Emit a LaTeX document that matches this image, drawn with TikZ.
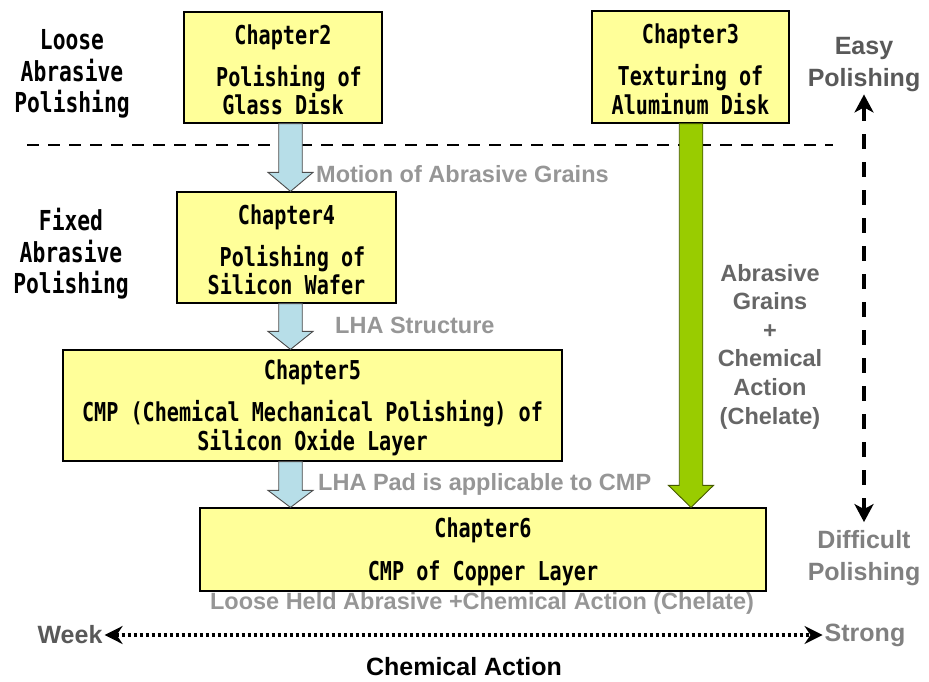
\documentclass[tikz,border=0pt]{standalone}
\usepackage{fontspec}
\setmainfont{Liberation Sans}
\newfontfamily\gothic[FakeStretch=0.775]{DejaVu Sans Mono}
\usetikzlibrary{arrows.meta, calc}

\definecolor{boxyellow}{RGB}{255,255,153}
\definecolor{arrowblue}{RGB}{183,222,232}
\definecolor{arrowgreen}{RGB}{153,204,0}
\definecolor{greenedge}{RGB}{70,90,0}
\definecolor{txtlight}{RGB}{150,150,150}
\definecolor{txtmid}{RGB}{128,128,128}
\definecolor{txtgrain}{RGB}{102,102,102}
\definecolor{txtdark}{RGB}{89,89,89}

\tikzset{
  chapbox/.style={draw=black, line width=1.2pt, fill=boxyellow, align=center,
                  inner sep=0pt, font=\gothic\bfseries\fontsize{26}{28.5}\selectfont},
  sidelabel/.style={align=center, inner sep=0pt,
                    font=\gothic\bfseries\fontsize{27.5}{31.5}\selectfont},
  graylabel/.style={text=txtlight, inner sep=0pt, align=center,
                    font=\bfseries\fontsize{23.5}{28.6}\selectfont},
  scalelabel/.style={inner sep=2pt, align=center,
                     font=\bfseries\fontsize{25}{32}\selectfont},
  bluearrow/.style={fill=arrowblue, draw=black!70, line width=0.9pt},
  greenarrow/.style={fill=arrowgreen, draw=greenedge, line width=0.9pt}
}

% fat arrow: style, x, source node, target node, head length
\newcommand{\fatarrow}[5]{%
  \path[#1] let \p1=(#3.south), \p2=(#4.north) in
    (#2pt-11.75pt,\y1) -- (#2pt+11.75pt,\y1) -- (#2pt+11.75pt,\y2+#5pt)
    -- (#2pt+22.5pt,\y2+#5pt) -- (#2pt,\y2) -- (#2pt-22.5pt,\y2+#5pt)
    -- (#2pt-11.75pt,\y2+#5pt) -- cycle;}
\newcommand{\topstrut}{\rule{0pt}{24pt}}

\begin{document}
\begin{tikzpicture}[x=1pt, y=-1pt]
  \useasboundingbox (0,0) rectangle (929,682);

  % dashed separator between loose and fixed abrasive
  \draw[line width=2.2pt, dash pattern=on 12pt off 9pt] (27,145) -- (833,145);

  % chapter boxes
  \node[chapbox, minimum width=198pt, minimum height=111pt] (ch2) at (283,67.5)
      {\topstrut Chapter2\\[13.5pt]\hspace*{12pt}Polishing of\\Glass Disk};
  \node[chapbox, minimum width=197pt, minimum height=112pt] (ch3) at (690.5,67)
      {\topstrut Chapter3\\[13.5pt]Texturing of\\Aluminum Disk};
  \node[chapbox, minimum width=219pt, minimum height=111pt] (ch4) at (286.5,247.5)
      {\topstrut Chapter4\\[13.5pt]\hspace*{12pt}Polishing of\\Silicon Wafer};
  \node[chapbox, minimum width=499pt, minimum height=111pt] (ch5) at (312.5,405.5)
      {\topstrut Chapter5\\[13.5pt]CMP (Chemical Mechanical Polishing) of\\Silicon Oxide Layer};
  \node[chapbox, minimum width=566pt, minimum height=83pt] (ch6) at (483,549.5)
      {\topstrut Chapter6\\[14pt]CMP of Copper Layer};

  % arrows between chapters
  \fatarrow{bluearrow}{290.5}{ch2}{ch4}{19}
  \fatarrow{bluearrow}{290.5}{ch4}{ch5}{18}
  \fatarrow{bluearrow}{290.5}{ch5}{ch6}{17}
  \fatarrow{greenarrow}{691}{ch3}{ch6}{22}

  % left side
  \node[sidelabel] (loose) at (72,74) {Loose\\Abrasive\\Polishing};
  \node[sidelabel] (fixed) at (71,254) {Fixed\\Abrasive\\Polishing};

  % arrow labels
  \node[graylabel, anchor=west] (motion) at (316,174) {Motion of Abrasive Grains};
  \node[graylabel, anchor=west] (lhastr) at (335,325) {LHA Structure};
  \node[graylabel, anchor=west] (lhapad) at (318,484) {LHA Pad is applicable to CMP};
  \node[graylabel] (loosehold) at (482,603) {Loose Held Abrasive +Chemical Action (Chelate)};
  \node[graylabel, text=txtgrain] (grains) at (770,346.5)
      {Abrasive\\Grains\\+\\Chemical\\Action\\(Chelate)};

  % polishing scale
  \node[scalelabel, text=txtdark] (easy) at (864,65) {Easy\\Polishing};
  \node[scalelabel, text=txtmid] (diff) at (864,558) {Difficult\\Polishing};
  \draw[line width=3.5pt, dash pattern=on 15pt off 13pt, shorten >=6pt,
        {Stealth[length=18pt,width=19pt,inset=5pt]}-{Stealth[length=18pt,width=19pt,inset=5pt]}]
        (easy.south) -- (diff.north);

  % chemical action scale
  \node[scalelabel, text=txtdark] (week) at (70,635) {Week};
  \node[scalelabel, text=txtmid] (strong) at (865,635) {Strong};
  \draw[line width=3.5pt, dash pattern=on 3pt off 3pt,
        {Stealth[length=18pt,width=18pt,inset=6pt]}-{Stealth[length=18pt,width=18pt,inset=6pt]}]
        (week.east) -- (strong.west);
  \node[scalelabel] (chem) at (464,667) {Chemical Action};
\end{tikzpicture}
\end{document}
